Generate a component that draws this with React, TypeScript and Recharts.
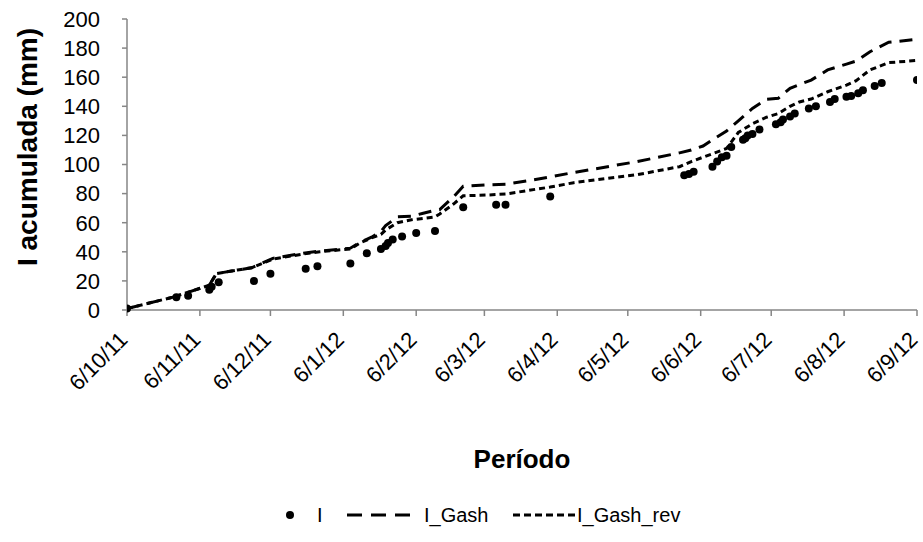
import React from 'react';
import { ComposedChart, Line, XAxis, YAxis, Legend } from 'recharts';

// Observed interception I (points)
const iDates = [
  '2011-10-06', '2011-10-27', '2011-11-01', '2011-11-10', '2011-11-11', '2011-11-14', '2011-11-29',
  '2011-12-06', '2011-12-21', '2011-12-26', '2012-01-09', '2012-01-16', '2012-01-22', '2012-01-24',
  '2012-01-25', '2012-01-27', '2012-01-31', '2012-02-06', '2012-02-14', '2012-02-26', '2012-03-11',
  '2012-03-15', '2012-04-03', '2012-05-30', '2012-06-01', '2012-06-03', '2012-06-11', '2012-06-13',
  '2012-06-15', '2012-06-17', '2012-06-19', '2012-06-24', '2012-06-25', '2012-06-26', '2012-06-28',
  '2012-07-01', '2012-07-08', '2012-07-10', '2012-07-11', '2012-07-14', '2012-07-16', '2012-07-22',
  '2012-07-25', '2012-07-31', '2012-08-02', '2012-08-07', '2012-08-09', '2012-08-12', '2012-08-14',
  '2012-08-19', '2012-08-22', '2012-09-06',
];
const iValues = [
  1, 8.7, 9.8, 14, 16, 19, 20,
  25, 28.4, 30, 32, 39, 42, 44,
  46, 48.5, 50.5, 53, 54.3, 70.6, 72.4,
  72.4, 78, 92.6, 93.5, 95, 98.5, 102,
  105, 106, 112, 117, 118, 120, 121,
  124, 127.6, 129, 131, 133, 135, 138.5,
  140, 143, 145, 146.5, 147, 149, 151,
  154, 156, 158,
];

// Modelled series (lines)
const lineDates = [
  '2011-10-06', '2011-10-26', '2011-11-10', '2011-11-13', '2011-11-22', '2011-11-28', '2011-12-07',
  '2011-12-20', '2011-12-27', '2012-01-09', '2012-01-13', '2012-01-18', '2012-01-22', '2012-01-24',
  '2012-01-29', '2012-02-04', '2012-02-09', '2012-02-14', '2012-02-16', '2012-02-22', '2012-02-26',
  '2012-03-07', '2012-03-15', '2012-03-24', '2012-04-03', '2012-04-13', '2012-05-10', '2012-05-28',
  '2012-06-02', '2012-06-07', '2012-06-12', '2012-06-17', '2012-06-22', '2012-06-28', '2012-07-04',
  '2012-07-09', '2012-07-14', '2012-07-18', '2012-07-23', '2012-07-30', '2012-08-07', '2012-08-11',
  '2012-08-17', '2012-08-25', '2012-09-06',
];
const gashValues = [
  1, 9, 17, 25, 27.5, 29, 35.5,
  39, 40.5, 42.5, 46.5, 50, 54, 58,
  64, 64.5, 66.5, 68.5, 69, 78, 85,
  86, 86.5, 88.7, 91.5, 94.5, 102, 108,
  110, 112.7, 118, 123, 130, 138.5, 144.8,
  145.5, 152.4, 155, 158, 165, 169, 171,
  177.5, 184, 186,
];
const gashRevValues = [
  1, 9, 17, 25, 27.5, 29, 35,
  38.5, 40, 42, 46, 49.5, 52, 55,
  60, 62, 63, 64, 66, 73, 78.5,
  79, 79.7, 82, 84.5, 87.5, 93, 98.5,
  102, 105, 108, 111, 122, 128, 132.5,
  135, 140, 143, 145, 150, 154.6, 157.5,
  165, 170, 171.5,
];

const xTickDates = [
  '2011-10-06', '2011-11-06', '2011-12-06', '2012-01-06', '2012-02-06', '2012-03-06',
  '2012-04-06', '2012-05-06', '2012-06-06', '2012-07-06', '2012-08-06', '2012-09-06',
];
const xTickLabels = [
  '6/10/11', '6/11/11', '6/12/11', '6/1/12', '6/2/12', '6/3/12',
  '6/4/12', '6/5/12', '6/6/12', '6/7/12', '6/8/12', '6/9/12',
];
const yTicks = [0, 20, 40, 60, 80, 100, 120, 140, 160, 180, 200];

const toT = (s: string) => {
  const [y, m, d] = s.split('-').map(Number);
  return Date.UTC(y, m - 1, d);
};

const pointData = iDates.map((d, i) => ({ t: toT(d), v: iValues[i] }));
const lineData = lineDates.map((d, i) => ({ t: toT(d), gash: gashValues[i], rev: gashRevValues[i] }));
const xTicks = xTickDates.map(toT);
const labelFor = (t: number) => {
  const i = xTicks.indexOf(t);
  return i >= 0 ? xTickLabels[i] : '';
};

const AXIS = '#868686';
const FONT = '"Liberation Sans", Arial, sans-serif';
const LONG_DASH = '13 8';
const SHORT_DASH = '6 4';

const XTick = (props: any) => {
  const { x, y, payload } = props;
  return (
    <g transform={`translate(${x + 2},${y + 23})`}>
      <text x={0} y={0} textAnchor="end" transform="rotate(-45)" fontSize={22} fontFamily={FONT} fill="#000">
        {labelFor(payload.value)}
      </text>
    </g>
  );
};

const XTitle = (props: any) => {
  const { viewBox } = props;
  return (
    <text x={viewBox.x + viewBox.width / 2} y={468} textAnchor="middle" fontSize={26} fontWeight="bold" fontFamily={FONT} fill="#000">
      Período
    </text>
  );
};

const YTitle = () => (
  <text x={0} y={0} transform="translate(37,147) rotate(-90)" textAnchor="middle" fontSize={28} fontWeight="bold" fontFamily={FONT} fill="#000">
    I acumulada (mm)
  </text>
);

const LegendContent = () => (
  <svg width={923} height={40} style={{ display: 'block' }}>
    <circle cx={290} cy={20} r={4} fill="#000" />
    <text x={317} y={27} fontSize={20} fontFamily={FONT} fill="#000">I</text>
    <line x1={347} y1={20} x2={410} y2={20} stroke="#000" strokeWidth={3} strokeDasharray="15 9" />
    <text x={424} y={27} fontSize={20} fontFamily={FONT} fill="#000">I_Gash</text>
    <line x1={513} y1={20} x2={575} y2={20} stroke="#000" strokeWidth={3} strokeDasharray="7 4" />
    <text x={577} y={27} fontSize={20} fontFamily={FONT} fill="#000">I_Gash_rev</text>
  </svg>
);

export default function App() {
  return (
    <div style={{ position: 'fixed', left: 0, top: 0, width: 923, height: 542, background: '#fff' }}>
      <ComposedChart width={923} height={542} margin={{ top: 19, right: 6, bottom: 7, left: 0 }}>
        <XAxis
          dataKey="t"
          type="number"
          domain={[xTicks[0], xTicks[xTicks.length - 1]]}
          ticks={xTicks}
          interval={0}
          height={185}
          stroke={AXIS}
          strokeWidth={1.5}
          tickSize={6}
          tick={<XTick />}
          allowDataOverflow
          label={<XTitle />}
        />
        <YAxis
          type="number"
          domain={[0, 200]}
          ticks={yTicks}
          interval={0}
          width={127}
          stroke={AXIS}
          strokeWidth={1.5}
          tickSize={5}
          tickMargin={22}
          tick={{ fontSize: 22, fontFamily: FONT, fill: '#000' }}
          label={<YTitle />}
        />
        <Legend verticalAlign="bottom" height={40} content={<LegendContent />} />
        <Line data={lineData} dataKey="gash" stroke="#000" strokeWidth={3} strokeDasharray={LONG_DASH} dot={false} activeDot={false} isAnimationActive={false} />
        <Line data={lineData} dataKey="rev" stroke="#000" strokeWidth={3} strokeDasharray={SHORT_DASH} dot={false} activeDot={false} isAnimationActive={false} />
        <Line data={pointData} dataKey="v" stroke="none" dot={{ r: 4, fill: '#000', stroke: 'none' }} activeDot={false} isAnimationActive={false} />
      </ComposedChart>
    </div>
  );
}
